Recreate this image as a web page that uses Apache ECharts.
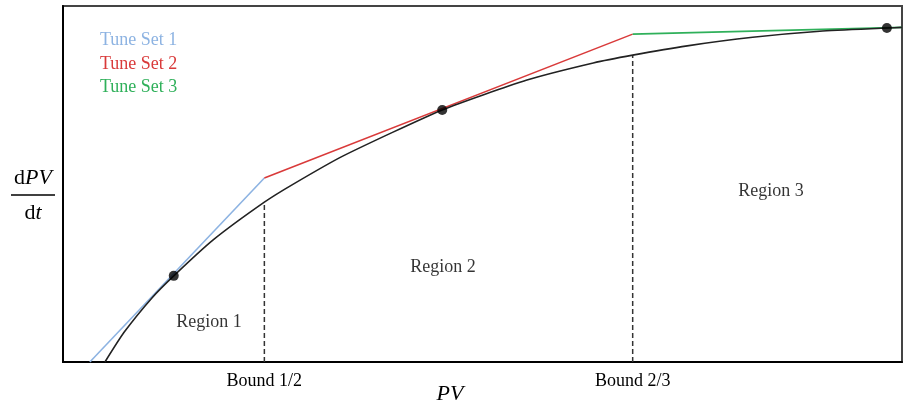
<!DOCTYPE html>
<html>
<head>
<meta charset="utf-8">
<script src="https://cdn.jsdelivr.net/npm/echarts@6/dist/echarts.min.js"></script>
<style>
    html, body { margin: 0; padding: 0; background: #fff; }
    #chart { width: 903px; height: 405px; }
</style>
</head>
<body>
<div id="chart"></div>
<script>
// process curve dPV/dt vs PV (arbitrary units, 0..100)
var curvePV = [5.0, 7.3, 10.6, 13.2, 17.9, 24.0, 27.4, 33.4, 45.2, 55.3, 63.2, 67.9, 74.4, 82.2, 90.2, 98.2, 100];
var curveRate = [0, 8.4, 18.0, 24.2, 34.3, 44.9, 49.9, 57.9, 70.8, 79.2, 84.0, 86.2, 88.8, 91.2, 92.9, 93.8, 94.0];

// piecewise tangent lines
var tune1PV = [3.2, 24.0];
var tune1Rate = [0, 51.7];
var tune2PV = [24.0, 67.9];
var tune2Rate = [51.7, 92.1];
var tune3PV = [67.9, 100];
var tune3Rate = [92.1, 94.0];

// tuning points
var pointPV = [13.2, 45.2, 98.2];
var pointRate = [24.2, 70.8, 93.8];

// region boundaries
var boundPV = [24.0, 67.9];
var boundRate = [44.9, 86.2];
var boundLabels = ['Bound 1/2', 'Bound 2/3'];

// region labels
var regionNames = ['Region 1', 'Region 2', 'Region 3'];
var regionPV = [17.4, 45.3, 84.4];
var regionRate = [11.2, 26.7, 48.0];

var tuneNames = ['Tune Set 1', 'Tune Set 2', 'Tune Set 3'];
var tuneColors = ['#8db3e2', '#d93a3a', '#2fb05a'];

var serif = '"Liberation Serif", "Times New Roman", serif';

function pairs(xs, ys) {
    return xs.map(function (x, i) { return [x, ys[i]]; });
}

var chart = echarts.init(document.getElementById('chart'));

var series = [];

// tangent lines
[[tune1PV, tune1Rate], [tune2PV, tune2Rate], [tune3PV, tune3Rate]].forEach(function (t, i) {
    series.push({
        type: 'line',
        data: pairs(t[0], t[1]),
        showSymbol: false,
        lineStyle: { color: tuneColors[i], width: 1.6 },
        z: 2
    });
});

// curve
series.push({
    type: 'line',
    data: pairs(curvePV, curveRate),
    smooth: 0.2,
    showSymbol: false,
    lineStyle: { color: '#222', width: 1.6 },
    z: 3
});

// dashed boundaries
boundPV.forEach(function (b, i) {
    series.push({
        type: 'line',
        data: [[b, 0], [b, boundRate[i]]],
        showSymbol: false,
        lineStyle: { color: '#333', width: 1.5, type: [5, 3] },
        z: 1
    });
});

// points
series.push({
    type: 'scatter',
    data: pairs(pointPV, pointRate),
    symbolSize: 10,
    itemStyle: { color: '#000' },
    z: 5
});

// region texts
series.push({
    type: 'scatter',
    data: regionPV.map(function (x, i) {
        return { value: [x, regionRate[i]], name: regionNames[i] };
    }),
    symbolSize: 0,
    silent: true,
    label: {
        show: true,
        position: 'inside',
        formatter: '{b}',
        fontFamily: serif,
        fontSize: 18,
        color: '#000'
    }
});

var graphics = tuneNames.map(function (n, i) {
    return {
        type: 'text',
        x: 100,
        y: 40.5 + i * 23.5,
        style: {
            text: n,
            font: '18px ' + serif,
            fill: tuneColors[i],
            align: 'left',
            verticalAlign: 'middle'
        }
    };
});

// x axis name
graphics.push({
    type: 'text',
    x: 450,
    y: 394,
    style: {
        text: 'PV',
        font: 'italic 22px ' + serif,
        fill: '#000',
        align: 'center',
        verticalAlign: 'middle'
    }
});

// y axis name as a fraction
graphics.push({
    type: 'text',
    x: 33,
    y: 178,
    style: {
        text: '{n|d}{i|PV}',
        align: 'center',
        verticalAlign: 'middle',
        rich: {
            n: { font: '22px ' + serif, fill: '#000' },
            i: { font: 'italic 22px ' + serif, fill: '#000' }
        }
    }
});
graphics.push({
    type: 'line',
    shape: { x1: 11, y1: 195, x2: 55, y2: 195 },
    style: { stroke: '#000', lineWidth: 1.5 }
});
graphics.push({
    type: 'text',
    x: 33,
    y: 213,
    style: {
        text: '{n|d}{i|t}',
        align: 'center',
        verticalAlign: 'middle',
        rich: {
            n: { font: '22px ' + serif, fill: '#000' },
            i: { font: 'italic 22px ' + serif, fill: '#000' }
        }
    }
});

chart.setOption({
    animation: false,
    grid: {
        left: 63,
        right: 1,
        top: 6,
        bottom: 43,
        show: true,
        borderColor: '#444',
        borderWidth: 2
    },
    xAxis: {
        type: 'value',
        min: 0,
        max: 100,
        splitLine: { show: false },
        axisLine: { onZero: false, lineStyle: { color: '#000', width: 2 } },
        axisTick: { show: false },
        axisLabel: {
            customValues: boundPV,
            margin: 10,
            fontFamily: serif,
            fontSize: 18,
            color: '#000',
            formatter: function (v) {
                var i = boundPV.indexOf(v);
                return i >= 0 ? boundLabels[i] : '';
            }
        }
    },
    yAxis: {
        type: 'value',
        min: 0,
        max: 100,
        splitLine: { show: false },
        axisLine: { show: true, onZero: false, lineStyle: { color: '#000', width: 2 } },
        axisTick: { show: false },
        axisLabel: { show: false }
    },
    series: series,
    graphic: graphics
});
</script>
</body>
</html>
